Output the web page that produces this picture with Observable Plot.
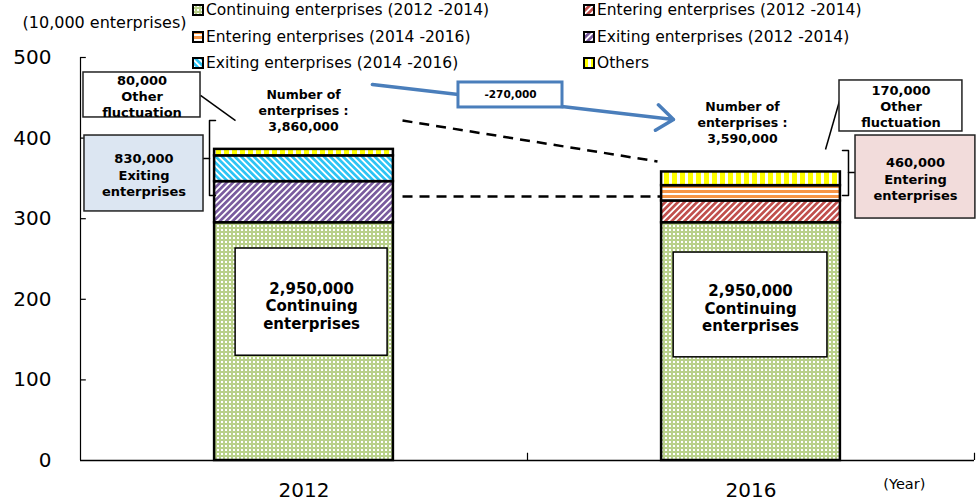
<!DOCTYPE html>
<html><head><meta charset="utf-8">
<script src="https://cdn.jsdelivr.net/npm/d3@7"></script>
<script src="https://cdn.jsdelivr.net/npm/@observablehq/plot@0.6"></script>
<style>
body{margin:0;background:#fff;font-family:"DejaVu Sans",sans-serif;color:#000}
#wrap{position:relative;width:976px;height:502px;overflow:hidden}
.leg{position:absolute;font-size:15.5px;white-space:nowrap;display:flex;align-items:center;height:20px;line-height:20px}
.leg svg{margin-right:2px;flex:none}
</style></head><body>
<svg width="0" height="0" style="position:absolute">
<defs>
<pattern id="pat0" width="4" height="4" patternUnits="userSpaceOnUse"><rect width="4" height="4" fill="#b9d08a"/><rect x="1" y="1" width="2" height="2" fill="#ffffff"/></pattern>
<pattern id="pat1" width="4.5" height="4.5" patternUnits="userSpaceOnUse" patternTransform="rotate(45)"><rect width="4.5" height="4.5" fill="#fff"/><rect width="2.7" height="4.5" fill="#c0504d"/></pattern>
<pattern id="pat2" width="5" height="5" patternUnits="userSpaceOnUse"><rect width="5" height="5" fill="#fff"/><rect width="5" height="3" fill="#f79646"/></pattern>
<pattern id="pat3" width="4.5" height="4.5" patternUnits="userSpaceOnUse" patternTransform="rotate(45)"><rect width="4.5" height="4.5" fill="#fff"/><rect width="2.7" height="4.5" fill="#7a5c9e"/></pattern>
<pattern id="pat4" width="4.5" height="4.5" patternUnits="userSpaceOnUse" patternTransform="rotate(-45)"><rect width="4.5" height="4.5" fill="#fff"/><rect width="2.7" height="4.5" fill="#2ec4f4"/></pattern>
<pattern id="pat5" width="8" height="8" patternUnits="userSpaceOnUse"><rect width="8" height="8" fill="#fff"/><rect width="5" height="8" fill="#ffff00"/></pattern>
</defs></svg>
<div id="wrap"></div>
<script>
// ---- data (10,000 enterprises) ----
const years = ["2012", "2016"];
const seriesNames = [
  "Continuing enterprises (2012 -2014)",
  "Entering enterprises (2012 -2014)",
  "Entering enterprises (2014 -2016)",
  "Exiting enterprises (2012 -2014)",
  "Exiting enterprises (2014 -2016)",
  "Others"
];
const continuing   = [295, 295];
const entering1214 = [0, 27];
const entering1416 = [0, 19];
const exiting1214  = [51, 0];
const exiting1416  = [32, 0];
const others       = [8, 17];
const yTicks = [0, 100, 200, 300, 400, 500];
const totalLabels = ["Number of\nenterprises :\n3,860,000", "Number of\nenterprises :\n3,590,000"];
const continuingLabels = ["2,950,000\nContinuing\nenterprises", "2,950,000\nContinuing\nenterprises"];
const changeLabel = "-270,000";
const calloutLabels = ["80,000\nOther\nfluctuation", "830,000\nExiting\nenterprises", "170,000\nOther\nfluctuation", "460,000\nEntering\nenterprises"];

const valueSeries = [continuing, entering1214, entering1416, exiting1214, exiting1416, others];
const table = [];
years.forEach((yr, i) => {
  valueSeries.forEach((arr, s) => {
    if (arr[i] > 0) table.push({year: yr, pos: i, series: seriesNames[s], value: arr[i]});
  });
});

// ---- annotation layout (x: category units, y: 10,000 enterprises) ----
const innerBoxes = [
  {x1: 0.347, x2: 0.687, y1: 130, y2: 263, tx: 0.517, ty: 192, label: continuingLabels[0]},
  {x1: 1.327, x2: 1.671, y1: 128, y2: 258, tx: 1.499, ty: 189, label: continuingLabels[1]}
];
const callouts = [
  {x1: 0.0067, x2: 0.2685, y1: 425.6, y2: 481.4, tx: 0.1376, ty: 452.5, fill: "#ffffff", label: calloutLabels[0]},
  {x1: 0.0089, x2: 0.2752, y1: 309, y2: 403.2, tx: 0.142, ty: 355, fill: "#dce6f2", label: calloutLabels[1]},
  {x1: 1.698, x2: 1.973, y1: 408.2, y2: 471.5, tx: 1.8356, ty: 440, fill: "#ffffff", label: calloutLabels[2]},
  {x1: 1.7338, x2: 2.002, y1: 300.2, y2: 403.2, tx: 1.868, ty: 350, fill: "#f2dcdb", label: calloutLabels[3]}
];
const totals = [
  {x: 0.499, y: 435.5, label: totalLabels[0]},
  {x: 1.481, y: 420, label: totalLabels[1]}
];
const leaders = [
  {x1: 0.2685, y1: 452.9, x2: 0.3468, y2: 421.8},
  {x1: 1.7002, y1: 450.4, x2: 1.6667, y2: 385.9}
];
const dashed = [
  {x1: 0.7204, y1: 421.8, x2: 1.2908, y2: 371},
  {x1: 0.7204, y1: 327.5, x2: 1.2975, y2: 327.5}
];
const brackets = [
  {g: "a", x: 0.302, y: 421.8}, {g: "a", x: 0.2886, y: 421.8}, {g: "a", x: 0.2886, y: 328.8}, {g: "a", x: 0.302, y: 328.8},
  {g: "b", x: 0.2886, y: 374.7}, {g: "b", x: 0.2752, y: 374.7},
  {g: "c", x: 1.7047, y: 384.6}, {g: "c", x: 1.7181, y: 384.6}, {g: "c", x: 1.7181, y: 328.8}, {g: "c", x: 1.7047, y: 328.8},
  {g: "d", x: 1.7181, y: 357.3}, {g: "d", x: 1.7338, y: 357.3}
];
const arrow = [{x1: 0.653, y1: 466.5, x2: 1.3266, y2: 423.1}];
const changeBox = [{x1: 0.8456, x2: 1.0783, y1: 438, y2: 469, tx: 0.962, ty: 453.5, label: changeLabel}];

const bold = {fontFamily: "DejaVu Sans", fontWeight: "bold", fill: "#000"};

const chart = Plot.plot({
  width: 976, height: 502,
  marginLeft: 80, marginRight: 2, marginTop: 57, marginBottom: 42,
  style: {fontFamily: "DejaVu Sans", fontSize: "20px", color: "black", background: "transparent", overflow: "visible"},
  x: {domain: [0, 2], ticks: [0.5, 1.5], tickFormat: d => years[Math.floor(d)], tickSize: 0, tickPadding: 22, label: null},
  y: {domain: [0, 500], ticks: yTicks, tickSize: 0, tickPadding: 29, tickFormat: d => String(d), label: null},
  color: {type: "ordinal", domain: seriesNames, range: seriesNames.map((_, i) => `url(#pat${i})`)},
  marks: [
    Plot.rectY(table, Plot.stackY({x1: d => d.pos + 0.3, x2: d => d.pos + 0.7, y: "value", fill: "series", stroke: "#000", strokeWidth: 2.5})),
    Plot.rect(innerBoxes, {x1: "x1", x2: "x2", y1: "y1", y2: "y2", fill: "#fff", stroke: "#000", strokeWidth: 1.5}),
    Plot.text(innerBoxes, {x: "tx", y: "ty", text: "label", fontSize: 15, lineHeight: 1.15, ...bold}),
    Plot.ruleX([0], {stroke: "#000", strokeWidth: 1.2}),
    Plot.ruleY([0], {stroke: "#000", strokeWidth: 1.5}),
    Plot.ruleY(yTicks.slice(1), {x1: 0, x2: 0.013, stroke: "#000", strokeWidth: 1.2}),
    Plot.ruleX([1, 2], {y1: 0, y2: 9, stroke: "#000", strokeWidth: 1.2}),
    Plot.link(leaders, {x1: "x1", y1: "y1", x2: "x2", y2: "y2", stroke: "#000", strokeWidth: 1.5}),
    Plot.link(dashed, {x1: "x1", y1: "y1", x2: "x2", y2: "y2", stroke: "#000", strokeWidth: 2.5, strokeDasharray: "10,7"}),
    Plot.line(brackets, {x: "x", y: "y", z: "g", stroke: "#000", strokeWidth: 1.5, curve: "linear"}),
    ...callouts.map(c => Plot.rect([c], {x1: "x1", x2: "x2", y1: "y1", y2: "y2", fill: c.fill, stroke: "#222", strokeWidth: 1.5})),
    Plot.text(callouts, {x: "tx", y: "ty", text: "label", fontSize: 13, lineHeight: 1.24, ...bold}),
    Plot.text(totals, {x: "x", y: "y", text: "label", fontSize: 12.5, lineHeight: 1.28, ...bold}),
    Plot.arrow(arrow, {x1: "x1", y1: "y1", x2: "x2", y2: "y2", stroke: "#4a7ebb", strokeWidth: 3.5, headLength: 9, headAngle: 75}),
    Plot.rect(changeBox, {x1: "x1", x2: "x2", y1: "y1", y2: "y2", fill: "#fff", stroke: "#4a7ebb", strokeWidth: 3}),
    Plot.text(changeBox, {x: "tx", y: "ty", text: "label", fontSize: 10.5, ...bold}),
    Plot.text(["(Year)"], {x: 1.843, y: -30, text: d => d, fontSize: 14.5, fontFamily: "DejaVu Sans", fill: "#000"}),
    Plot.text(["(10,000 enterprises)"], {x: 0.0537, y: 543.5, text: d => d, fontSize: 16, fontFamily: "DejaVu Sans", fill: "#000"})
  ]
});
const wrap = document.getElementById("wrap");
wrap.appendChild(chart);

// legend
const legCols = [192, 583], legRows = [10, 37, 63];
seriesNames.forEach((name, i) => {
  const d = document.createElement("div");
  d.className = "leg";
  d.style.left = legCols[i % 2] + "px";
  d.style.top = (legRows[Math.floor(i / 2)] - 10) + "px";
  d.innerHTML = `<svg width="12" height="12"><rect x="1" y="1" width="10" height="10" fill="url(#pat${i})" stroke="#000" stroke-width="2"/></svg><span>${name}</span>`;
  wrap.appendChild(d);
});
</script>
</body></html>
